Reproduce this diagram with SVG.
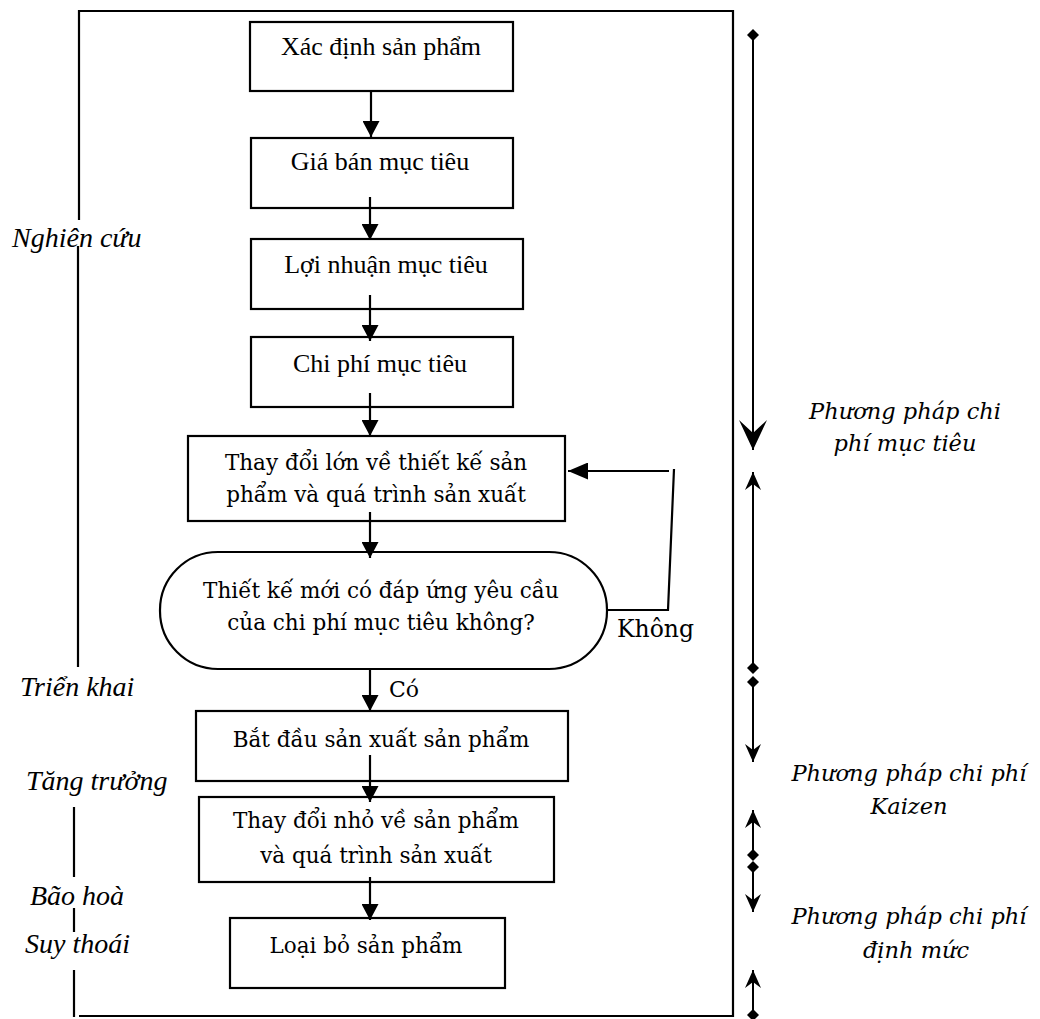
<svg xmlns="http://www.w3.org/2000/svg" width="1040" height="1019" viewBox="0 0 1040 1019">
  <style>
    .box { fill: #ffffff; stroke: #000000; stroke-width: 2.2; }
    .frame { fill: none; stroke: #000000; stroke-width: 2.2; }
    .edge { fill: none; stroke: #000000; stroke-width: 2.2; }
    .span { fill: none; stroke: #000000; stroke-width: 2; }
    .t1 { font-family: "Liberation Serif", "Times New Roman", serif; font-size: 26px; fill: #000; text-anchor: middle; }
    .t2 { font-family: "DejaVu Serif", "Liberation Serif", serif; font-size: 21.5px; fill: #000; text-anchor: middle; }
    .lbl { font-family: "DejaVu Serif", "Liberation Serif", serif; font-size: 22px; fill: #000; }
    .stage { font-family: "Liberation Serif", "Times New Roman", serif; font-style: italic; font-size: 28px; fill: #000; }
    .method { font-family: "DejaVu Serif", "Liberation Serif", serif; font-style: italic; font-size: 22.5px; fill: #000; text-anchor: middle; }
  </style>
  <defs>
    <marker id="ah" viewBox="0 0 16 17" refX="16" refY="8.5" markerWidth="16" markerHeight="17" markerUnits="userSpaceOnUse" orient="auto">
      <path d="M0,0 L16,8.5 L0,17 z" fill="#000"/>
    </marker>
    <marker id="ahLoop" viewBox="0 0 20 17" refX="20" refY="8.5" markerWidth="20" markerHeight="17" markerUnits="userSpaceOnUse" orient="auto">
      <path d="M0,0 L20,8.5 L0,17 z" fill="#000"/>
    </marker>
    <marker id="bigHead" viewBox="0 0 30 28" refX="30" refY="14" markerWidth="30" markerHeight="28" markerUnits="userSpaceOnUse" orient="auto">
      <path d="M0,0 L30,14 L0,28 L13,14 z" fill="#000"/>
    </marker>
    <marker id="smallHead" viewBox="0 0 18 16" refX="18" refY="8" markerWidth="18" markerHeight="16" markerUnits="userSpaceOnUse" orient="auto">
      <path d="M0,0 L18,8 L0,16 L6,8 z" fill="#000"/>
    </marker>
    <marker id="dia" viewBox="0 0 12 12" refX="6" refY="6" markerWidth="12" markerHeight="12" markerUnits="userSpaceOnUse" orient="auto">
      <path d="M0,6 L6,0 L12,6 L6,12 z" fill="#000"/>
    </marker>
  </defs>

  <!-- enclosing frame with stage labels on the left -->
  <g id="frame">
    <path class="frame" d="M79,220 V11 H733 V1016 H79"/>
    <line class="frame" x1="78" y1="246" x2="78" y2="667"/>
    <line class="frame" x1="74" y1="807" x2="74" y2="877"/>
    <line class="frame" x1="74" y1="908" x2="74" y2="932"/>
    <line class="frame" x1="74" y1="970" x2="74" y2="1017"/>
  </g>

  <g id="stages">
    <text class="stage" x="12" y="247">Nghiên cứu</text>
    <text class="stage" x="20" y="696">Triển khai</text>
    <text class="stage" x="26" y="790">Tăng trưởng</text>
    <text class="stage" x="30" y="905">Bão hoà</text>
    <text class="stage" x="25" y="953">Suy thoái</text>
  </g>

  <!-- process nodes -->
  <g id="n1">
    <rect class="box" x="250" y="22" width="263" height="69"/>
    <text class="t1" x="381" y="55">Xác định sản phẩm</text>
  </g>
  <g id="n2">
    <rect class="box" x="251" y="138" width="262" height="70"/>
    <text class="t1" x="380" y="170">Giá bán mục tiêu</text>
  </g>
  <g id="n3">
    <rect class="box" x="251" y="239" width="272" height="70"/>
    <text class="t1" x="386" y="273">Lợi nhuận mục tiêu</text>
  </g>
  <g id="n4">
    <rect class="box" x="251" y="337" width="262" height="70"/>
    <text class="t1" x="380" y="372">Chi phí mục tiêu</text>
  </g>
  <g id="n5">
    <rect class="box" x="188" y="436" width="377" height="85"/>
    <text class="t2" x="376" y="470">Thay đổi lớn về thiết kế sản</text>
    <text class="t2" x="376" y="502">phẩm và quá trình sản xuất</text>
  </g>
  <g id="n6">
    <rect class="box" x="160" y="552" width="447" height="117" rx="58" ry="58"/>
    <text class="t2" x="381" y="598">Thiết kế mới có đáp ứng yêu cầu</text>
    <text class="t2" x="381" y="630">của chi phí mục tiêu không?</text>
  </g>
  <g id="n7">
    <rect class="box" x="196" y="711" width="372" height="70"/>
    <text class="t2" x="381" y="747">Bắt đầu sản xuất sản phẩm</text>
  </g>
  <g id="n8">
    <rect class="box" x="199" y="797" width="355" height="85"/>
    <text class="t2" x="376" y="828">Thay đổi nhỏ về sản phẩm</text>
    <text class="t2" x="376" y="863">và quá trình sản xuất</text>
  </g>
  <g id="n9">
    <rect class="box" x="230" y="918" width="275" height="70"/>
    <text class="t2" x="366" y="953">Loại bỏ sản phẩm</text>
  </g>

  <!-- connectors -->
  <g id="connectors">
    <line class="edge" x1="371" y1="91" x2="371" y2="137" marker-end="url(#ah)"/>
    <line class="edge" x1="370" y1="197" x2="370" y2="240" marker-end="url(#ah)"/>
    <line class="edge" x1="370" y1="295" x2="370" y2="341" marker-end="url(#ah)"/>
    <line class="edge" x1="370" y1="393" x2="370" y2="436" marker-end="url(#ah)"/>
    <line class="edge" x1="370" y1="512" x2="370" y2="558" marker-end="url(#ah)"/>
    <line class="edge" x1="370" y1="669" x2="370" y2="711" marker-end="url(#ah)"/>
    <line class="edge" x1="370" y1="755" x2="370" y2="802" marker-end="url(#ah)"/>
    <line class="edge" x1="370" y1="877" x2="370" y2="920" marker-end="url(#ah)"/>
    <!-- "Không" loop back to the redesign step -->
    <path class="edge" d="M607,610 H668 L674,469"/>
    <line class="edge" x1="669" y1="471" x2="568" y2="471" marker-end="url(#ahLoop)"/>
    <text class="lbl" x="617" y="637" style="font-size:23.5px">Không</text>
    <text class="lbl" x="389" y="697">Có</text>
  </g>

  <!-- cost-method spans on the right -->
  <g id="spans">
    <line class="span" x1="753" y1="35" x2="753" y2="450" marker-start="url(#dia)" marker-end="url(#bigHead)"/>
    <line class="span" x1="753" y1="668" x2="753" y2="472" marker-start="url(#dia)" marker-end="url(#smallHead)"/>
    <line class="span" x1="753" y1="682" x2="753" y2="762" marker-start="url(#dia)" marker-end="url(#smallHead)"/>
    <line class="span" x1="753" y1="855" x2="753" y2="810" marker-start="url(#dia)" marker-end="url(#smallHead)"/>
    <line class="span" x1="753" y1="867" x2="753" y2="912" marker-start="url(#dia)" marker-end="url(#smallHead)"/>
    <line class="span" x1="753" y1="1015" x2="753" y2="970" marker-start="url(#dia)" marker-end="url(#smallHead)"/>
  </g>

  <g id="methods">
    <text class="method" x="905" y="419">Phương pháp chi</text>
    <text class="method" x="905" y="451">phí mục tiêu</text>
    <text class="method" x="909" y="781">Phương pháp chi phí</text>
    <text class="method" x="909" y="814">Kaizen</text>
    <text class="method" x="909" y="924">Phương pháp chi phí</text>
    <text class="method" x="916" y="958">định mức</text>
  </g>
</svg>
